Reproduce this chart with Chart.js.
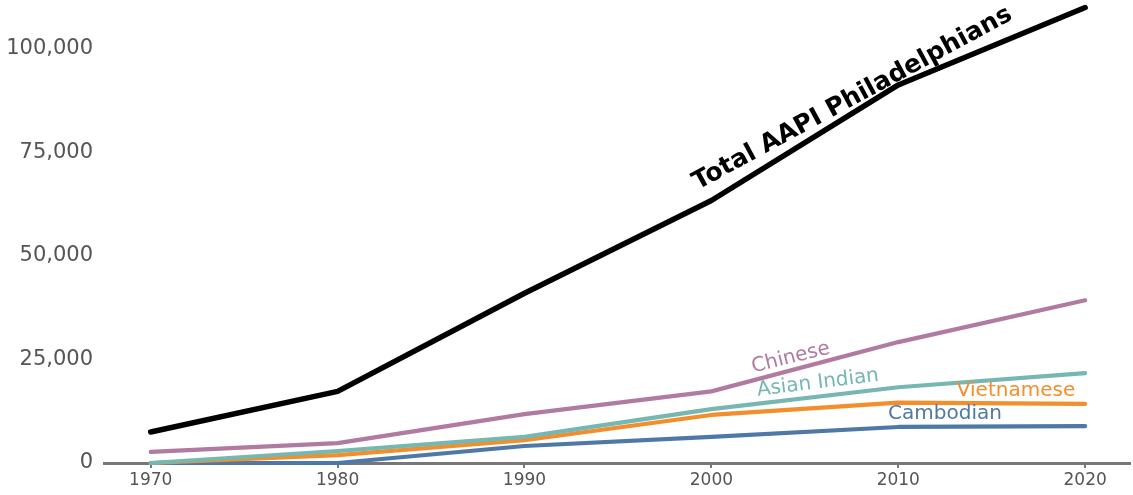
<!DOCTYPE html>
<html>
<head>
<meta charset="utf-8">
<script src="https://cdn.jsdelivr.net/npm/chart.js@4"></script>
<style>
  html, body { margin: 0; padding: 0; background: #fff; }
  #wrap { width: 1133px; height: 495px; position: relative; }
</style>
</head>
<body>
<div id="wrap"><canvas id="c"></canvas></div>
<script>
const years = [1970, 1980, 1990, 2000, 2010, 2020];
const totalAAPI  = [7500, 17300, 41000, 63400, 91300, 110000];
const chinese    = [2700, 4800, 11800, 17300, 29200, 39300];
const asianIndian= [0, 2900, 6300, 13000, 18300, 21700];
const vietnamese = [0, 1900, 5500, 11600, 14600, 14300];
const cambodian  = [0, 0, 4100, 6300, 8700, 8900];
const yTickValues = [0, 25000, 50000, 75000, 100000];
const xTickValues = [1970, 1980, 1990, 2000, 2010, 2020];

const FONT = "'DejaVu Sans', sans-serif";

function pts(arr) { return years.map((y, i) => ({ x: y, y: arr[i] })); }

const labels = [
  { text: 'Total AAPI Philadelphians', x: 2007.55, y: 88000, angle: -28.5, color: '#000', font: 'bold 25px ' + FONT },
  { text: 'Chinese', x: 2004.25, y: 25400, angle: -14, color: '#b07aa1', font: '20px ' + FONT },
  { text: 'Asian Indian', x: 2005.7, y: 19300, angle: -7, color: '#76b7b2', font: '20px ' + FONT },
  { text: 'Vietnamese', x: 2016.3, y: 17500, angle: 0, color: '#f28e2b', font: '20px ' + FONT },
  { text: 'Cambodian', x: 2012.5, y: 11800, angle: 0, color: '#4e79a7', font: '20px ' + FONT }
];

const labelPlugin = {
  id: 'lineLabels',
  afterDatasetsDraw(chart) {
    const ctx = chart.ctx;
    const xs = chart.scales.x, ys = chart.scales.y;
    labels.forEach(l => {
      ctx.save();
      ctx.translate(xs.getPixelForValue(l.x), ys.getPixelForValue(l.y));
      ctx.rotate(l.angle * Math.PI / 180);
      ctx.font = l.font;
      ctx.fillStyle = l.color;
      ctx.textAlign = 'center';
      ctx.textBaseline = 'middle';
      ctx.fillText(l.text, 0, 0);
      ctx.restore();
    });
  }
};

function ds(data, color, width) {
  return {
    data: pts(data), borderColor: color, backgroundColor: color,
    borderWidth: width, pointRadius: 0, tension: 0, fill: false,
    borderCapStyle: 'round', borderJoinStyle: 'round', clip: false
  };
}

new Chart(document.getElementById('c'), {
  type: 'line',
  data: {
    datasets: [
      ds(totalAAPI, '#000000', 5.5),
      ds(chinese, '#b07aa1', 4.2),
      ds(asianIndian, '#76b7b2', 4.2),
      ds(vietnamese, '#f28e2b', 4.2),
      ds(cambodian, '#4e79a7', 4.2)
    ]
  },
  options: {
    responsive: true,
    maintainAspectRatio: false,
    animation: false,
    layout: { padding: { top: 7.5, right: 3, left: 0, bottom: 0 } },
    plugins: { legend: { display: false }, tooltip: { enabled: false } },
    scales: {
      x: {
        type: 'linear', min: 1967.5, max: 2022.4,
        afterBuildTicks(s) { s.ticks = xTickValues.map(v => ({ value: v })); },
        afterFit(s) { s.height = 32; },
        grid: { display: true, drawOnChartArea: false, drawTicks: true, tickLength: 5, color: '#777', lineWidth: 2 },
        border: { display: true, color: '#777', width: 3 },
        ticks: { color: '#555', font: { family: FONT, size: 17 }, padding: 2, callback: v => String(v), maxRotation: 0 }
      },
      y: {
        min: 0, max: 110000,
        afterBuildTicks(s) { s.ticks = yTickValues.map(v => ({ value: v })); },
        afterFit(s) { s.width = 104; s.paddingTop = 0; s.paddingBottom = 0; },
        grid: { display: false, drawTicks: false },
        border: { display: false },
        ticks: { color: '#555', font: { family: FONT, size: 21 }, padding: 11, callback: v => v.toLocaleString('en-US') }
      }
    }
  },
  plugins: [labelPlugin]
});
</script>
</body>
</html>
